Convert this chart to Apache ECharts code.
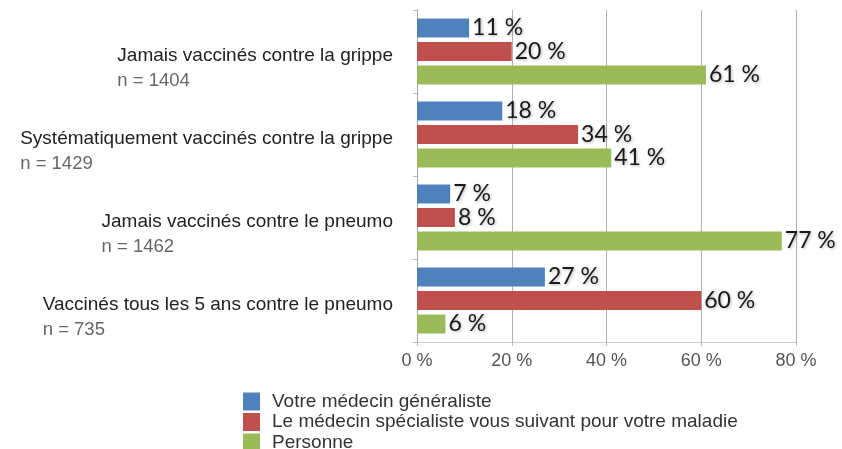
<!DOCTYPE html>
<html>
<head>
<meta charset="utf-8">
<script src="https://cdn.jsdelivr.net/npm/echarts@6/dist/echarts.min.js"></script>
<style>
  html, body { margin: 0; padding: 0; background: #fff; }
  #chart { width: 842px; height: 449px; }
</style>
</head>
<body>
<div id="chart"></div>
<script>
var categories = [
  "Jamais vaccinés contre la grippe",
  "Systématiquement vaccinés contre la grippe",
  "Jamais vaccinés contre le pneumo",
  "Vaccinés tous les 5 ans contre le pneumo"
];
var sampleSizes = ["n = 1404", "n = 1429", "n = 1462", "n = 735"];
var seriesNames = [
  "Votre médecin généraliste",
  "Le médecin spécialiste vous suivant pour votre maladie",
  "Personne"
];
var generaliste = [11, 18, 7, 27];
var specialiste = [20, 34, 8, 60];
var personne = [61, 41, 77, 6];
var colors = ["#4F81BD", "#C0504D", "#9BBB59"];

var chart = echarts.init(document.getElementById("chart"));

function makeSeries(name, values, color) {
  return {
    name: name,
    type: "bar",
    data: values,
    barWidth: 19,
    barGap: "24%",
    itemStyle: { color: color },
    label: {
      show: true,
      position: "right",
      distance: 3,
      formatter: "{c} %",
      fontFamily: "Lato",
      fontSize: 23,
      color: "#1a1a1a",
      textShadowColor: "rgba(0,0,0,0.3)",
      textShadowBlur: 3,
      textShadowOffsetX: 1,
      textShadowOffsetY: 1
    }
  };
}

var option = {
  animation: false,
  textStyle: { fontFamily: "Liberation Sans" },
  grid: { left: 417, right: 46, top: 10, bottom: 107 },
  legend: {
    orient: "vertical",
    left: 243,
    top: 392,
    height: 90,
    padding: 0,
    itemWidth: 17,
    itemHeight: 18,
    itemGap: 1.5,
    icon: "rect",
    textStyle: {
      fontSize: 19,
      lineHeight: 18,
      color: "#333",
      padding: [0, 0, 0, 7],
      fontFamily: "Liberation Sans"
    },
    data: seriesNames
  },
  xAxis: {
    type: "value",
    min: 0,
    max: 80,
    interval: 20,
    axisLine: { show: true, lineStyle: { color: "#ccc" } },
    axisTick: { show: true, length: 4, lineStyle: { color: "#bbb" } },
    axisLabel: {
      formatter: "{value} %",
      fontSize: 18,
      color: "#555",
      margin: 10
    },
    splitLine: { show: true, lineStyle: { color: "#b0b0b0" } }
  },
  yAxis: {
    type: "category",
    inverse: true,
    data: categories,
    axisLine: { show: true, lineStyle: { color: "#a0a0a0" } },
    axisTick: { show: true, length: 4, lineStyle: { color: "#bbb" } },
    axisLabel: {
      margin: 24,
      padding: [34, 0, 0, 0],
      formatter: function (value, index) {
        return "{a|" + value + "}\n{b|" + sampleSizes[index] + "}";
      },
      rich: {
        a: { fontSize: 19, color: "#222", lineHeight: 25, align: "right" },
        b: { fontSize: 18.5, color: "#666", lineHeight: 25, align: "left" }
      }
    }
  },
  series: [
    makeSeries(seriesNames[0], generaliste, colors[0]),
    makeSeries(seriesNames[1], specialiste, colors[1]),
    makeSeries(seriesNames[2], personne, colors[2])
  ]
};

chart.setOption(option);
</script>
</body>
</html>
